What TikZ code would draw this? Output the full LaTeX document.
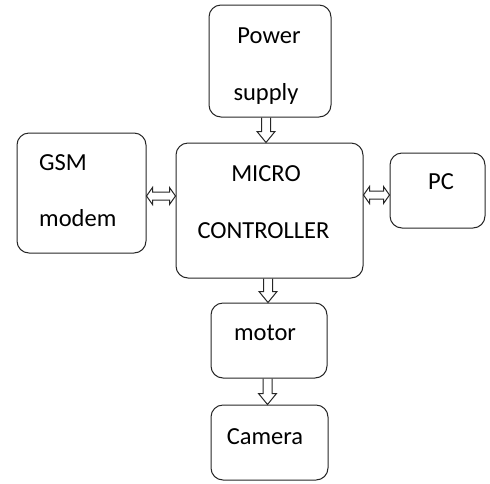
\documentclass[tikz,border=0pt]{standalone}
\usepackage{fontspec}
\setmainfont{Carlito}
\usetikzlibrary{calc}
\begin{document}
\begin{tikzpicture}[x=1pt,y=-1pt,
  blk/.style={draw=black!85, line width=1pt, rounded corners=12pt, inner sep=0pt},
  lbl/.style={font=\fontsize{24.5}{27}\selectfont, inner sep=0pt, text=black},
  arr/.style={draw=black!85, line width=1pt, line join=miter}]
\useasboundingbox (0,0) rectangle (490,483);
% blocks
\node[blk, minimum width=122pt, minimum height=112pt] (power) at (270,61) {};
\node[blk, minimum width=187pt, minimum height=135pt] (mc) at (269.5,210.5) {};
\node[blk, minimum width=129pt, minimum height=120pt] (gsm) at (81.5,193) {};
\node[blk, minimum width=95pt, minimum height=75pt] (pc) at (437.5,190.5) {};
\node[blk, minimum width=116pt, minimum height=75pt] (motor) at (269,340.5) {};
\node[blk, minimum width=117pt, minimum height=75pt] (camera) at (269.5,442.5) {};
% labels
\node[lbl] (t1) at (269,36) {Power};
\node[lbl] (t2) at (266,94) {supply};
\node[lbl] (t3) at (266,174) {MICRO};
\node[lbl] (t4) at (263.5,231) {CONTROLLER};
\node[lbl, anchor=west] (t5) at (39,163) {GSM};
\node[lbl, anchor=west] (t6) at (39,218) {modem};
\node[lbl] (t7) at (441,182) {PC};
\node[lbl] (t8) at (265,333) {motor};
\node[lbl] (t9) at (265,437) {Camera};
% hollow block arrows pointing down (top box -> bottom box)
\foreach \a/\b/\dx in {power/mc/-4, mc/motor/-1.5, motor/camera/-1.5}{
  \draw[arr] let \p1=([xshift=\dx pt]\a.south), \p2=(\b.north) in
    (\x1-4.5pt,\y1) -- (\x1-4.5pt,\y2+11pt) -- (\x1-9pt,\y2+11pt) -- (\x1,\y2)
    -- (\x1+9pt,\y2+11pt) -- (\x1+4.5pt,\y2+11pt) -- (\x1+4.5pt,\y1);
}
% hollow two-way arrows (left box <-> right box)
\foreach \a/\b/\yy in {gsm/mc/196, mc/pc/195}{
  \draw[arr] let \p1=(\a.east |- 0,\yy), \p2=(\b.west) in
    (\x1,\y1) -- (\x1+6pt,\y1+8.5pt) -- (\x1+6pt,\y1+4pt) -- (\x2-6pt,\y1+4pt)
    -- (\x2-6pt,\y1+8.5pt) -- (\x2,\y1) -- (\x2-6pt,\y1-8.5pt) -- (\x2-6pt,\y1-4pt)
    -- (\x1+6pt,\y1-4pt) -- (\x1+6pt,\y1-8.5pt) -- cycle;
}
\end{tikzpicture}
\end{document}
